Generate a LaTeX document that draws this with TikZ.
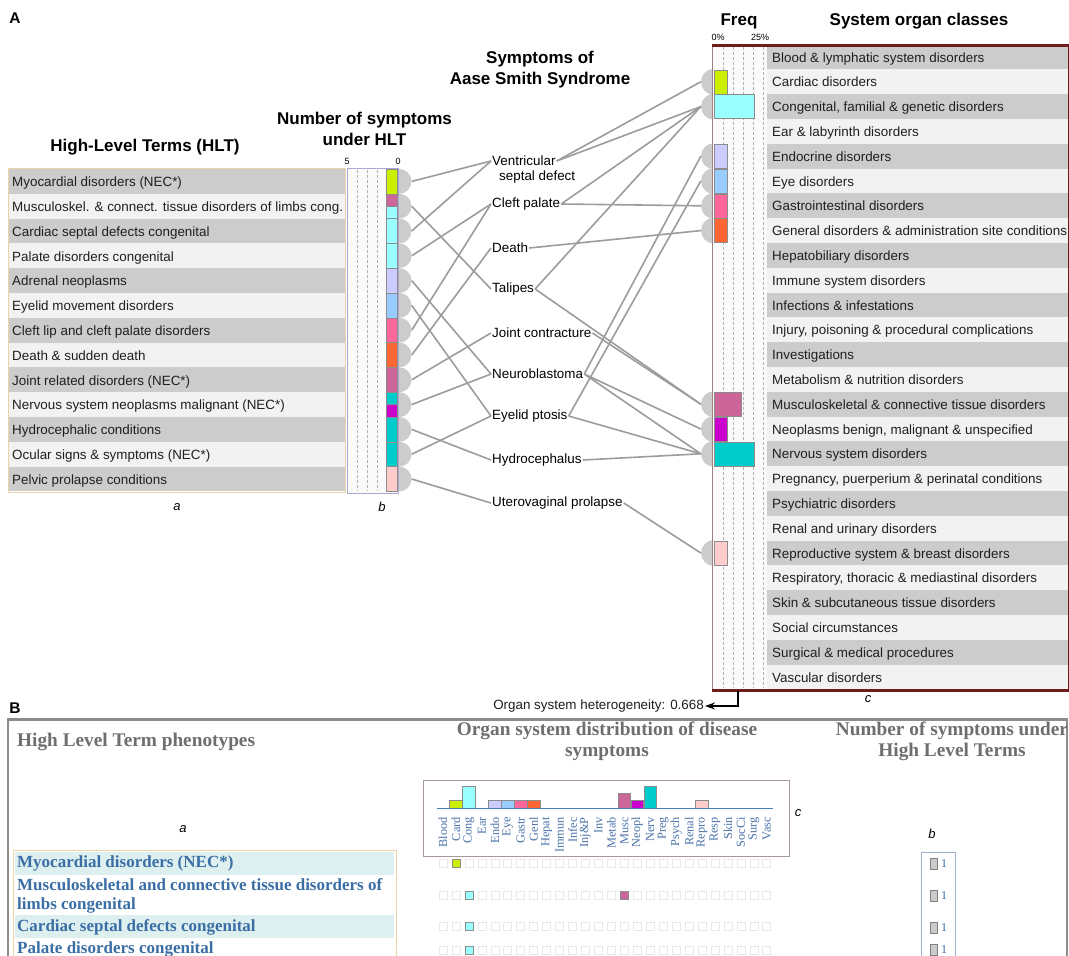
\documentclass[tikz,border=0pt]{standalone}
\usepackage{fontspec}
\setmainfont{Liberation Sans}
\newfontfamily\serifB{Liberation Serif}
\usetikzlibrary{arrows.meta}
\definecolor{cLime}{HTML}{CCEE00}
\definecolor{cCyan}{HTML}{99FFFF}
\definecolor{cMusc}{HTML}{CC6699}
\definecolor{cLav}{HTML}{CCCCFF}
\definecolor{cLblue}{HTML}{99CCFF}
\definecolor{cPink}{HTML}{FF6699}
\definecolor{cOrange}{HTML}{FF6633}
\definecolor{cTeal}{HTML}{00CCCC}
\definecolor{cMag}{HTML}{CC00CC}
\definecolor{cLpink}{HTML}{FFCCCC}
\definecolor{rowDark}{HTML}{CCCCCC}
\definecolor{rowLight}{HTML}{F2F2F2}
\definecolor{linkGray}{HTML}{9C9C9C}
\definecolor{circGray}{HTML}{CCCCCC}
\definecolor{frameRed}{HTML}{6E1C1C}
\definecolor{frameLeft}{HTML}{A08080}
\definecolor{tanBorder}{HTML}{EBD3A8}
\definecolor{lavBorder}{HTML}{A8A8D0}
\definecolor{titleGray}{HTML}{6E6E6E}
\definecolor{hltBlue}{HTML}{3A6EA5}
\definecolor{axBlue}{HTML}{4A72AA}
\definecolor{tealRow}{HTML}{DDEFEF}
\definecolor{boxBrown}{HTML}{A89898}
\definecolor{baseBlue}{HTML}{4A80C0}
\definecolor{bBoxBlue}{HTML}{A0B0D0}
\definecolor{frameGray}{HTML}{8C8C8C}
\newcommand{\fsRow}{\fontsize{13.4}{15}\selectfont}
\newcommand{\fsTitle}{\fontsize{17}{21}\selectfont\bfseries}
\newcommand{\fsBig}{\fontsize{19.3}{21}\selectfont\bfseries}
\tikzset{
  rowtext/.style={anchor=base west, inner sep=1pt, font=\fsRow, text=black!88},
  titleA/.style={font=\fsTitle, align=center, inner sep=0pt},
  hcirc/.style={circle, fill=circGray, minimum size=25pt, inner sep=0pt},
  ocirc/.style={circle, fill=circGray, minimum size=26pt, inner sep=0pt},
  symp/.style={anchor=west, inner sep=1pt, font=\fsRow, text=black},
  link/.style={draw=linkGray, line width=1.6pt},
  seg/.style={draw=black!45, line width=0.5pt},
  tick/.style={font=\fontsize{9}{10}\selectfont, inner sep=0pt},
  sublabel/.style={font=\fontsize{13}{15}\selectfont\itshape, inner sep=0pt},
  panel/.style={font=\fontsize{15.5}{17}\selectfont\bfseries, inner sep=0pt},
  btitle/.style={font=\serifB\fsBig, text=titleGray, align=center, inner sep=0pt},
  bhlt/.style={anchor=west, inner sep=0pt, font=\serifB\fontsize{17}{19}\selectfont\bfseries, text=hltBlue, align=left},
  axlab/.style={rotate=90, anchor=east, inner sep=0pt, font=\serifB\fontsize{12.3}{13}\selectfont, text=axBlue},
  numlab/.style={anchor=west, inner sep=0pt, font=\serifB\fontsize{12}{13}\selectfont, text=hltBlue},
}
\begin{document}
\begin{tikzpicture}[x=1pt,y=-1pt]
\useasboundingbox (0,0) rectangle (1069,956);
\clip (0,0) rectangle (1069,956);
\fill[white] (0,0) rectangle (1069,956);

% ================= PART A =================
\node[panel] (lblA) at (15,18) {A};
\node[titleA] (tHLT) at (145,147) {High-Level Terms (HLT)};
\node[titleA] (tNum) at (364.5,128.5) {Number of symptoms\\under HLT};
\node[titleA] (tSym) at (540,69.5) {Symptoms of\\Aase Smith Syndrome};
\node[titleA] (tFreq) at (739,21) {Freq};
\node[titleA] (tSOC) at (919,21) {System organ classes};
\node[tick] (t5) at (347,161) {5};
\node[tick] (t0) at (398,161) {0};
\node[tick] (tp0) at (718,37) {0\%};
\node[tick] (tp25) at (760,37) {25\%};

% --- SOC circles (behind freq area)
\foreach \i in {2,3,5,6,7,8,15,16,17,21} {
  \pgfmathsetmacro\yc{32.2+24.8*\i}
  \node[ocirc] (oc\i) at (714,\yc) {};
}
% --- freq area
\fill[black!2] (712,45) rectangle (767,690);
\foreach \xx in {723.5,733.5,743.5,753.5,763.5}
  \draw[black!30, dashed, dash pattern=on 3pt off 2pt, line width=0.5pt] (\xx,47) -- (\xx,688);
\foreach \i/\w/\c in {2/727/cLime, 3/754/cCyan, 5/727/cLav, 6/727/cLblue, 7/727/cPink, 8/727/cOrange, 15/741/cMusc, 16/727/cMag, 17/754/cTeal, 21/727/cLpink} {
  \pgfmathsetmacro\ta{44.6+24.8*(\i-1)+0.4}
  \pgfmathsetmacro\tb{44.6+24.8*\i-0.4}
  \filldraw[seg, fill=\c] (714,\ta) rectangle (\w,\tb);
}
% --- SOC rows
\foreach \i/\t in {1/{Blood \& lymphatic system disorders},
  2/{Cardiac disorders},
  3/{Congenital, familial \& genetic disorders},
  4/{Ear \& labyrinth disorders},
  5/{Endocrine disorders},
  6/{Eye disorders},
  7/{Gastrointestinal disorders},
  8/{General disorders \& administration site conditions},
  9/{Hepatobiliary disorders},
  10/{Immune system disorders},
  11/{Infections \& infestations},
  12/{Injury, poisoning \& procedural complications},
  13/{Investigations},
  14/{Metabolism \& nutrition disorders},
  15/{Musculoskeletal \& connective tissue disorders},
  16/{Neoplasms benign, malignant \& unspecified},
  17/{Nervous system disorders},
  18/{Pregnancy, puerperium \& perinatal conditions},
  19/{Psychiatric disorders},
  20/{Renal and urinary disorders},
  21/{Reproductive system \& breast disorders},
  22/{Respiratory, thoracic \& mediastinal disorders},
  23/{Skin \& subcutaneous tissue disorders},
  24/{Social circumstances},
  25/{Surgical \& medical procedures},
  26/{Vascular disorders}} {
  \pgfmathsetmacro\yc{32.2+24.8*\i}
  \pgfmathsetmacro\yb{\yc+5}
  \pgfmathsetmacro\ta{44.6+24.8*(\i-1)}
  \pgfmathsetmacro\tb{44.6+24.8*\i}
  \pgfmathtruncatemacro\odd{mod(\i,2)}
  \ifnum\odd=1 \def\rc{rowDark}\else\def\rc{rowLight}\fi
  \fill[\rc] (767,\ta) rectangle (1069,\tb);
  \node[rowtext] (o\i) at (771,\yb) {\t};
}
% --- SOC frame
\draw[frameLeft, line width=1pt] (712,45) -- (712,690);
\draw[frameRed, line width=0.8pt] (1068,45) -- (1068,690);
\draw[frameRed, line width=3pt] (712,45) -- (1069,45);
\draw[frameRed, line width=3pt] (712,690) -- (1069,690);

% --- HLT rows
\foreach \i/\t in {1/{Myocardial disorders (NEC*)},
  2/{Musculoskel. \& connect. tissue disorders of limbs cong.},
  3/{Cardiac septal defects congenital},
  4/{Palate disorders congenital},
  5/{Adrenal neoplasms},
  6/{Eyelid movement disorders},
  7/{Cleft lip and cleft palate disorders},
  8/{Death \& sudden death},
  9/{Joint related disorders (NEC*)},
  10/{Nervous system neoplasms malignant (NEC*)},
  11/{Hydrocephalic conditions},
  12/{Ocular signs \& symptoms (NEC*)},
  13/{Pelvic prolapse conditions}} {
  \pgfmathsetmacro\yc{156.6+24.8*\i}
  \pgfmathsetmacro\yb{\yc+5.2}
  \pgfmathsetmacro\ta{169+24.8*(\i-1)}
  \pgfmathsetmacro\tb{169+24.8*\i}
  \pgfmathtruncatemacro\odd{mod(\i,2)}
  \ifnum\odd=1 \def\rc{rowDark}\else\def\rc{rowLight}\fi
  \fill[\rc] (8,\ta) rectangle (345,\tb);
  \node[rowtext] (h\i) at (11,\yb) {\t};
  \node[hcirc] (hc\i) at (399,\yc) {};
}
\draw[tanBorder, line width=1pt] (8,168.5) rectangle (345,492);

% --- b bar box
\filldraw[fill=black!2, draw=lavBorder, line width=1pt] (347,168) rectangle (398,493);
\foreach \xx in {357.5,367.5,377.5}
  \draw[black!30, dashed, dash pattern=on 3pt off 2pt, line width=0.5pt] (\xx,170) -- (\xx,491);
\foreach \a/\b/\c in {169/193.8/cLime, 193.8/206.2/cMusc, 206.2/218.6/cCyan, 218.6/243.4/cCyan,
  243.4/268.2/cCyan, 268.2/293/cLav, 293/317.8/cLblue, 317.8/342.6/cPink, 342.6/367.4/cOrange,
  367.4/392.2/cMusc, 392.2/404.6/cTeal, 404.6/417/cMag, 417/441.8/cTeal, 441.8/466.6/cTeal,
  466.6/491.4/cLpink}
  \filldraw[seg, fill=\c] (386,\a) rectangle (397,\b);

\node[sublabel] (la) at (177,507) {a};
\node[sublabel] (lb) at (382,507) {b};
\node[sublabel] (lc) at (868,699) {c};

% --- symptoms
\node[symp] (s1) at (491,161) {Ventricular};
\node[symp] (s1b) at (498,177) {septal defect};
\node[symp] (s2) at (491,204) {Cleft palate};
\node[symp] (s3) at (491,248) {Death};
\node[symp] (s4) at (491,289) {Talipes};
\node[symp] (s5) at (491,333) {Joint contracture};
\node[symp] (s6) at (491,374) {Neuroblastoma};
\node[symp] (s7) at (491,416) {Eyelid ptosis};
\node[symp] (s8) at (491,460) {Hydrocephalus};
\node[symp] (s9) at (491,503) {Uterovaginal prolapse};

% --- connectors HLT -> symptoms
\foreach \a/\b in {1/1,2/4,3/1,4/2,5/6,6/7,7/2,8/3,9/5,10/6,11/8,12/7,13/9}
  \draw[link] (hc\a.east) -- (s\b.west);
% --- connectors symptoms -> SOC
\foreach \a/\b in {1/2,1/3,2/3,2/7,3/8,4/3,4/15,5/15,6/5,6/16,6/17,7/6,7/17,8/17,9/21}
  \draw[link] (s\a.east) -- (oc\b.west);

% --- heterogeneity
\coordinate (hetA) at (738,691);
\node[symp, anchor=east, text=black!88] (het) at (705,706) {Organ system heterogeneity: 0.668};
\draw[line width=1.5pt, -{Stealth[length=10pt,width=7pt]}] (hetA) |- (het.east);

% ================= PART B =================
\node[panel] (lblB) at (15,708) {B};
\draw[frameGray, line width=2.5pt] (8,960) -- (8,719.5) -- (1067,719.5) -- (1067,960);
\node[btitle, anchor=west] (bt1) at (17,742) {High Level Term phenotypes};
\node[btitle] (bt2) at (607,741.5) {Organ system distribution of disease\\symptoms};
\node[btitle] (bt3) at (952,741.5) {Number of symptoms under\\High Level Terms};
\node[sublabel] (ba) at (183,829) {a};
\node[sublabel] (bc) at (798,813) {c};
\node[sublabel] (bb) at (932,834) {b};

% chart c
\draw[boxBrown, line width=1pt] (423,780) rectangle (789,856);
\foreach \i/\n/\c in {2/1/cLime, 3/3/cCyan, 5/1/cLav, 6/1/cLblue, 7/1/cPink, 8/1/cOrange, 15/2/cMusc, 16/1/cMag, 17/3/cTeal, 21/1/cLpink} {
  \pgfmathsetmacro\xc{443+12.95*(\i-1)}
  \pgfmathsetmacro\yt{808-7.3*\n}
  \filldraw[seg, fill=\c] (\xc-6.3,808) rectangle (\xc+6.3,\yt);
}
\draw[baseBlue, line width=1pt] (437,808) -- (773,808);
\foreach \t [count=\i] in {Blood,Card,Cong,Ear,Endo,Eye,Gastr,Genl,Hepat,Immun,Infec,Inj\&P,Inv,Metab,Musc,Neopl,Nerv,Preg,Psych,Renal,Repro,Resp,Skin,SocCi,Surg,Vasc} {
  \pgfmathsetmacro\xc{443+12.95*(\i-1)}
  \node[axlab] (ax\i) at (\xc,817) {\t};
}

% HLT list B
\fill[tealRow] (15,852) rectangle (394,875);
\fill[tealRow] (15,915) rectangle (394,938);
\draw[tanBorder, line width=0.8pt] (13,850) rectangle (396,962);
\node[bhlt] (bh1) at (17,863) {Myocardial disorders (NEC*)};
\node[bhlt] (bh2) at (17,895.5) {Musculoskeletal and connective tissue disorders of\\limbs congenital};
\node[bhlt] (bh3) at (17,927) {Cardiac septal defects congenital};
\node[bhlt] (bh4) at (17,949) {Palate disorders congenital};

% dot matrix
\foreach \yy in {863,895,926,950} {
  \foreach \i in {1,...,26} {
    \pgfmathsetmacro\xc{443+12.95*(\i-1)}
    \draw[black!9, line width=0.6pt] (\xc-4,\yy-4) rectangle (\xc+4,\yy+4);
  }
}
\foreach \i/\yy/\c in {2/863/cLime, 3/895/cCyan, 15/895/cMusc, 3/926/cCyan, 3/950/cCyan} {
  \pgfmathsetmacro\xc{443+12.95*(\i-1)}
  \filldraw[seg, fill=\c] (\xc-4,\yy-4) rectangle (\xc+4,\yy+4);
}

% b box B
\draw[bBoxBlue, line width=0.8pt] (921,852) rectangle (955,962);
\foreach \yy [count=\k] in {864,896,928,950} {
  \filldraw[fill=black!20, draw=black!50, line width=0.5pt] (930,\yy-5.5) rectangle (937,\yy+5.5);
  \node[numlab] (n\k) at (941,\yy) {1};
}
\end{tikzpicture}
\end{document}
